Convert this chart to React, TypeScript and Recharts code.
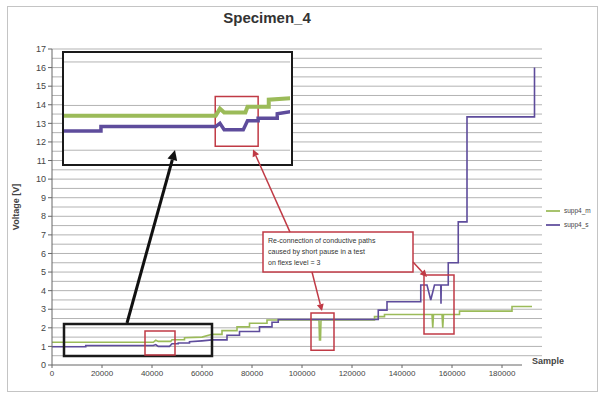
import React from 'react';
import { LineChart, Line, XAxis, YAxis, CartesianGrid, ReferenceArea, ReferenceLine, Legend } from 'recharts';

// ---- data ----
const seriesNames = ['supp4_m', 'supp4_s'];

const greenSamples = [0, 40500, 41500, 42500, 47500, 48000, 53000, 53000, 60000, 64000, 68000, 68000, 74000, 74000, 79000, 79000, 86000, 86000, 106800, 107000, 107400, 107600, 125000, 129000, 129000, 133000, 133000, 152000, 152300, 152600, 156000, 156300, 156600, 163000, 163000, 184000, 184000, 192000];
const greenValues = [1.22, 1.22, 1.33, 1.27, 1.27, 1.36, 1.36, 1.47, 1.5, 1.65, 1.65, 1.85, 1.85, 2.05, 2.05, 2.25, 2.25, 2.42, 2.42, 1.35, 1.35, 2.42, 2.42, 2.42, 2.6, 2.6, 2.72, 2.72, 2.0, 2.72, 2.72, 2.0, 2.72, 2.72, 2.9, 2.9, 3.15, 3.15];

const purpleSamples = [0, 13500, 13500, 40500, 41500, 42500, 47000, 48000, 50500, 50500, 55000, 55000, 60000, 64000, 70000, 70000, 75000, 75000, 83000, 83000, 88000, 88000, 90500, 90500, 130500, 130500, 134000, 134000, 147500, 147500, 150000, 151500, 153000, 155500, 155600, 155700, 158500, 158500, 162500, 162500, 166000, 166000, 193000, 193000];
const purpleValues = [0.98, 0.98, 1.05, 1.05, 1.1, 1.0, 1.0, 1.14, 1.14, 1.18, 1.18, 1.25, 1.3, 1.35, 1.35, 1.6, 1.6, 1.8, 1.8, 2.05, 2.05, 2.3, 2.3, 2.45, 2.45, 2.95, 2.95, 3.4, 3.4, 4.3, 4.3, 3.5, 4.3, 4.3, 3.3, 4.3, 4.3, 5.5, 5.5, 7.7, 7.7, 13.35, 13.35, 16.0];

const xTicks = [0, 20000, 40000, 60000, 80000, 100000, 120000, 140000, 160000, 180000];
const yTicks = [0, 1, 2, 3, 4, 5, 6, 7, 8, 9, 10, 11, 12, 13, 14, 15, 16, 17];
const gridLevels = [0.5, 1, 1.5, 2, 2.5, 3, 3.5, 4, 4.5, 5, 5.5, 6, 6.5, 7, 7.5, 8, 8.5, 9, 9.5, 10, 10.5, 11, 11.5, 12, 12.5, 13, 13.5, 14, 14.5, 15, 15.5, 16, 16.5, 17];
const insetGridLevels = [0.68, 1.03, 1.38, 1.72, 2.06];
const noteLines = ['Re-connection of conductive paths', 'caused by short pause in a test', 'on flexs level = 3'];

const greenData = greenSamples.map((s, i) => ({ sample: s, v: greenValues[i] }));
const purpleData = purpleSamples.map((s, i) => ({ sample: s, v: purpleValues[i] }));

const GREEN = '#9bbb59';
const PURPLE = '#5e4c9c';
const RED = '#c03a45';
const FONT = '"Liberation Sans", Arial, sans-serif';

const arrowShape = (color: string, width: number, head: number) => (props: any) => {
  let { x1, y1, x2, y2 } = props;
  if (x1 === undefined && props.points) {
    x1 = props.points[0].x; y1 = props.points[0].y; x2 = props.points[1].x; y2 = props.points[1].y;
  }
  const ang = Math.atan2(y2 - y1, x2 - x1);
  const bx = x2 - head * Math.cos(ang);
  const by = y2 - head * Math.sin(ang);
  const px = -Math.sin(ang) * head * 0.5;
  const py = Math.cos(ang) * head * 0.5;
  return (
    <g>
      <line x1={x1} y1={y1} x2={bx} y2={by} stroke={color} strokeWidth={width} />
      <polygon points={`${x2},${y2} ${bx + px},${by + py} ${bx - px},${by - py}`} fill={color} />
    </g>
  );
};

const noteLabel = (p: any) => {
  const vb = p.viewBox || {};
  return (
    <text x={vb.x + 5} y={vb.y + 11} fontSize={7} fill="#333">
      {noteLines.map((t, i) => (
        <tspan key={i} x={vb.x + 5} dy={i === 0 ? 0 : 11}>{t}</tspan>
      ))}
    </text>
  );
};

export default function App() {
  return (
    <div style={{ position: 'absolute', left: 0, top: 0, width: 605, height: 398, background: '#fff', fontFamily: FONT }}>
      <div style={{ position: 'absolute', left: 7, top: 6, width: 591, height: 386, border: '1px solid #c4c4c4', boxSizing: 'border-box' }} />
      <div style={{ position: 'absolute', left: 0, top: 0 }}>
        <LineChart width={605} height={398} margin={{ top: 49, right: 63, left: 12, bottom: 13 }}>
          <CartesianGrid vertical={false} horizontalValues={gridLevels} stroke="#b3b3b3" />
          <XAxis type="number" dataKey="sample" domain={[0, 196000]} ticks={xTicks} interval={0} axisLine={false}
            tickLine={{ stroke: '#666' }} tickSize={3} height={20} tick={{ fontSize: 8, fill: '#444' }} />
          <YAxis type="number" domain={[0, 17]} ticks={yTicks} interval={0} width={40} axisLine={{ stroke: '#666' }}
            tickLine={{ stroke: '#666' }} tickSize={4} tick={{ fontSize: 9, fill: '#444' }}
            label={{ value: 'Voltage [V]', angle: -90, position: 'insideLeft', offset: 4, style: { textAnchor: 'middle', fontSize: 9, fontWeight: 'bold', fill: '#444' } }} />
          <ReferenceLine segment={[{ x: 0, y: 0 }, { x: 188000, y: 0 }]} stroke="#666" ifOverflow="visible" />
          <Line data={greenData} dataKey="v" name={seriesNames[0]} type="linear" stroke={GREEN} strokeWidth={1.6} dot={false} isAnimationActive={false} />
          <Line data={purpleData} dataKey="v" name={seriesNames[1]} type="linear" stroke={PURPLE} strokeWidth={1.6} dot={false} isAnimationActive={false} />
          <Legend layout="vertical" align="center" verticalAlign="middle" iconType="plainline" iconSize={14}
            wrapperStyle={{ left: 546, top: 204, width: 60, fontSize: 6.5, lineHeight: '10px' }}
            formatter={(v: any) => <span style={{ color: '#444' }}>{v}</span>} />
        </LineChart>
      </div>
      <div style={{ position: 'absolute', left: 0, top: 9, width: 534, textAlign: 'center', fontSize: 15, fontWeight: 'bold', color: '#333' }}>Specimen_4</div>
      <div style={{ position: 'absolute', left: 532, top: 356, fontSize: 9, fontWeight: 'bold', color: '#444' }}>Sample</div>
      <div style={{ position: 'absolute', left: 62, top: 51, width: 231, height: 115, border: '2.5px solid #1a1a1a', boxSizing: 'border-box', background: '#fff' }}>
        <LineChart width={226} height={110} margin={{ top: 0, right: 0, left: 0, bottom: 0 }}>
          <CartesianGrid vertical={false} horizontalValues={insetGridLevels} stroke="#b3b3b3" />
          <XAxis type="number" dataKey="sample" domain={[4800, 58000]} allowDataOverflow hide />
          <YAxis type="number" domain={[0.48, 2.2]} allowDataOverflow hide />
          <Line data={greenData} dataKey="v" type="linear" stroke={GREEN} strokeWidth={4} dot={false} isAnimationActive={false} />
          <Line data={purpleData} dataKey="v" type="linear" stroke={PURPLE} strokeWidth={3.5} dot={false} isAnimationActive={false} />
          <ReferenceArea x1={40400} x2={50500} y1={0.74} y2={1.52} fill="none" stroke={RED} strokeWidth={1.5} ifOverflow="visible" />
        </LineChart>
      </div>
      <div style={{ position: 'absolute', left: 0, top: 0, pointerEvents: 'none' }}>
        <LineChart width={605} height={398} margin={{ top: 49, right: 63, left: 52, bottom: 33 }}>
          <XAxis type="number" dataKey="sample" domain={[0, 196000]} hide />
          <YAxis type="number" domain={[0, 17]} hide />
          <Line data={greenData} dataKey="v" stroke="none" strokeOpacity={0} dot={false} isAnimationActive={false} legendType="none" />
          <ReferenceArea x1={4800} x2={64000} y1={0.48} y2={2.2} fill="none" fillOpacity={0} stroke="#1a1a1a" strokeWidth={2.5} ifOverflow="visible" />
          <ReferenceArea x1={37200} x2={49200} y1={0.54} y2={1.83} fill="none" fillOpacity={0} stroke={RED} strokeWidth={1.5} ifOverflow="visible" />
          <ReferenceArea x1={103600} x2={112800} y1={0.8} y2={2.8} fill="none" fillOpacity={0} stroke={RED} strokeWidth={1.5} ifOverflow="visible" />
          <ReferenceArea x1={148800} x2={160800} y1={1.67} y2={4.84} fill="none" fillOpacity={0} stroke={RED} strokeWidth={1.5} ifOverflow="visible" />
          <ReferenceArea x1={84400} x2={144400} y1={5.0} y2={7.15} fill="#fff" fillOpacity={1} stroke={RED} strokeWidth={1.5} ifOverflow="visible" label={noteLabel} />
          <ReferenceLine segment={[{ x: 30000, y: 2.26 }, { x: 49200, y: 11.56 }]} ifOverflow="visible" shape={arrowShape('#111', 3, 10)} />
          <ReferenceLine segment={[{ x: 104000, y: 5.0 }, { x: 108000, y: 2.9 }]} ifOverflow="visible" shape={arrowShape(RED, 1.5, 7)} />
          <ReferenceLine segment={[{ x: 144400, y: 5.54 }, { x: 150000, y: 4.73 }]} ifOverflow="visible" shape={arrowShape(RED, 1.5, 7)} />
          <ReferenceLine segment={[{ x: 95200, y: 7.15 }, { x: 80400, y: 11.6 }]} ifOverflow="visible" shape={arrowShape(RED, 1.5, 7)} />
        </LineChart>
      </div>
    </div>
  );
}
